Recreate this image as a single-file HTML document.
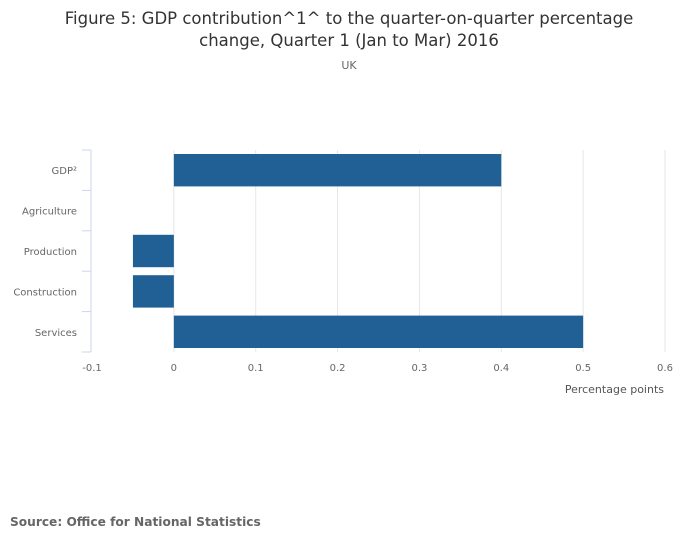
<!DOCTYPE html>
<html><head><meta charset="utf-8"><style>
body{margin:0;background:#fff;font-family:"DejaVu Sans","Liberation Sans",sans-serif;}
#wrap{position:relative;width:700px;height:549px;overflow:hidden;}
</style></head><body>
<div id="wrap">
<svg id="chart" width="700" height="549">
<text x="349" y="24" text-anchor="middle" font-size="16.5" fill="#333">Figure 5: GDP contribution^1^ to the quarter-on-quarter percentage</text>
<text x="349" y="46" text-anchor="middle" font-size="16.5" fill="#333">change, Quarter 1 (Jan to Mar) 2016</text>
<text x="349" y="69" text-anchor="middle" font-size="11" fill="#666">UK</text>
<text x="664" y="393" text-anchor="end" font-size="11" fill="#555">Percentage points</text>
<text x="10" y="526" font-size="12.2" font-weight="bold" fill="#666">Source: Office for National Statistics</text>
<g id="grid"></g><g id="bars"></g><g id="axes"></g>
</svg>
</div>
<script>
const categories = ["GDP²","Agriculture","Production","Construction","Services"];
const values = [0.4, 0, -0.05, -0.05, 0.5];
const xTicks = [-0.1,0,0.1,0.2,0.3,0.4,0.5,0.6];
const xTickLabels = ["-0.1","0","0.1","0.2","0.3","0.4","0.5","0.6"];
const NS="http://www.w3.org/2000/svg";
const plotL=92,plotR=665,plotT=150,plotB=352,xmin=-0.1,xmax=0.6;
const xs=v=>plotL+(v-xmin)/(xmax-xmin)*(plotR-plotL);
const band=(plotB-plotT)/categories.length;
const ys=i=>plotT+i*band;
function mk(tag,attrs,parent){const e=document.createElementNS(NS,tag);for(const k in attrs)e.setAttribute(k,attrs[k]);document.getElementById(parent).appendChild(e);return e;}
xTicks.forEach((t,i)=>{
  if(i>0){const g=mk("line",{x1:xs(t),x2:xs(t),y1:plotT,y2:plotB,stroke:"#e6e6e6"},"grid");
  
  }
  const l=mk("text",{x:xs(t),y:371,"text-anchor":"middle","font-size":"10",fill:"#666"},"axes");
  l.textContent=xTickLabels[i];
  
  
});
const ax=mk("line",{x1:plotL-1,x2:plotL-1,y1:plotT,y2:plotB,stroke:"#ccd6eb"},"axes");


for(let i=0;i<=categories.length;i++){
  const tk=mk("line",{x1:plotL-10,x2:plotL-1,y1:ys(i),y2:ys(i),stroke:"#ccd6eb"},"axes");
  
  
}
categories.forEach((c,i)=>{
  const l=mk("text",{x:77,y:ys(i)+band/2+4,"text-anchor":"end","font-size":"10",fill:"#666"},"axes");
  l.textContent=c;
  
  
  const v=values[i];
  if(v!==0){
    const b=mk("rect",{x:Math.min(xs(0),xs(v)),y:ys(i)+4,width:Math.abs(xs(v)-xs(0)),height:band-8,fill:"#206095"},"bars");
    
    
  }
});
</script>
</body></html>
